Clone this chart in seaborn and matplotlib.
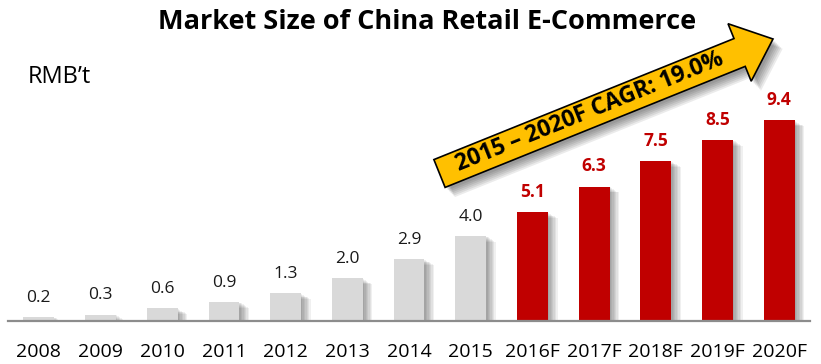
import matplotlib
matplotlib.use("Agg")
import matplotlib.pyplot as plt
import matplotlib.patheffects as pe
from matplotlib.patches import Polygon
import numpy as np
import seaborn as sns

years = ["2008", "2009", "2010", "2011", "2012", "2013", "2014", "2015",
         "2016F", "2017F", "2018F", "2019F", "2020F"]
market_size = [0.2, 0.3, 0.6, 0.9, 1.3, 2.0, 2.9, 4.0, 5.1, 6.3, 7.5, 8.5, 9.4]
is_forecast = [y.endswith("F") for y in years]

title = "Market Size of China Retail E-Commerce"
unit_label = "RMB\u2019t"
cagr_label = "2015 \u2013 2020F CAGR: 19.0%"

GREY = "#D9D9D9"
RED = "#C00000"
YELLOW = "#FFC000"

sns.set_theme(style="white")
plt.rcParams["font.family"] = ["Open Sans", "DejaVu Sans"]

W, H, DPI = 821, 364, 100
fig = plt.figure(figsize=(W / DPI, H / DPI), dpi=DPI)

# axes placed in pixel terms: baseline at y=321, x from 8 to 810
ax_left, ax_right, ax_base, ax_top = 8, 810, 321, 97
ax = fig.add_axes([ax_left / W, (H - ax_base) / H,
                   (ax_right - ax_left) / W, (ax_base - ax_top) / H])

palette = {y: (RED if f else GREY) for y, f in zip(years, is_forecast)}
sns.barplot(x=years, y=market_size, hue=years, palette=palette,
            legend=False, width=0.5, saturation=1, ax=ax, zorder=3)

# soft drop shadow on each bar
shadow = [pe.SimplePatchShadow(offset=(k, -k * 0.6), shadow_rgbFace="#000000",
                               alpha=0.06) for k in range(1, 8)]
for bar in ax.patches:
    bar.set_edgecolor("none")
    bar.set_path_effects(shadow + [pe.Normal()])

ax.set_xlim(-0.5, len(years) - 0.5)
ax.set_ylim(0, 10.5)
for s in ["left", "right", "top"]:
    ax.spines[s].set_visible(False)
ax.spines["bottom"].set_color("#8C8C8C")
ax.spines["bottom"].set_linewidth(1.6)
ax.spines["bottom"].set_zorder(4)
ax.set_yticks([])
ax.tick_params(axis="x", length=0, pad=16, labelsize=14, labelcolor="#000000")
ax.set_xlabel("")
ax.set_ylabel("")

# value labels above bars
for i, (v, f) in enumerate(zip(market_size, is_forecast)):
    if f:
        ax.annotate(f"{v:.1f}", (i, v), xytext=(0, 8), textcoords="offset points",
                    ha="center", va="bottom", fontsize=12.5, fontweight="bold",
                    color=RED)
    else:
        ax.annotate(f"{v:.1f}", (i, v), xytext=(0, 8), textcoords="offset points",
                    ha="center", va="bottom", fontsize=12.5, color="#1A1A1A")

fig.text(427 / W, 1 - 22 / H, title, ha="center", va="center",
         fontsize=19.5, fontweight="bold", color="#000000")
fig.text(28 / W, 1 - 77 / H, unit_label, ha="left", va="center",
         fontsize=17, color="#000000")

# growth arrow, defined in pixels (y measured from top of image)
tail_c = np.array([439.5, 173.5])
tip = np.array([773.0, 39.0])
d = tip - tail_c
length = np.hypot(*d)
u = d / length
n = np.array([u[1], -u[0]])  # perpendicular pointing "down-right"
body_hw, head_hw, head_len = 15.0, 31.0, 36.0
hb = tip - u * head_len
pts = [tail_c - n * body_hw, hb - n * body_hw, hb - n * head_hw, tip,
       hb + n * head_hw, hb + n * body_hw, tail_c + n * body_hw]
pts_in = [(p[0] / DPI, (H - p[1]) / DPI) for p in pts]
arrow = Polygon(pts_in, closed=True, facecolor=YELLOW, edgecolor="#000000",
                linewidth=1.2, transform=fig.dpi_scale_trans, zorder=10)
arrow.set_path_effects([pe.SimplePatchShadow(offset=(k, -k), shadow_rgbFace="#000000",
                                             alpha=0.08) for k in range(2, 8)] + [pe.Normal()])
fig.add_artist(arrow)

angle = np.degrees(np.arctan2(-d[1], d[0]))
text_c = tail_c + u * (length - head_len) * 0.5 + n * 1.0
fig.text(text_c[0] / W, 1 - text_c[1] / H, cagr_label, rotation=angle,
         rotation_mode="anchor", ha="center", va="center", fontsize=16.5,
         fontweight="bold", color="#000000", zorder=11)

fig.savefig("out.png", dpi=DPI)
